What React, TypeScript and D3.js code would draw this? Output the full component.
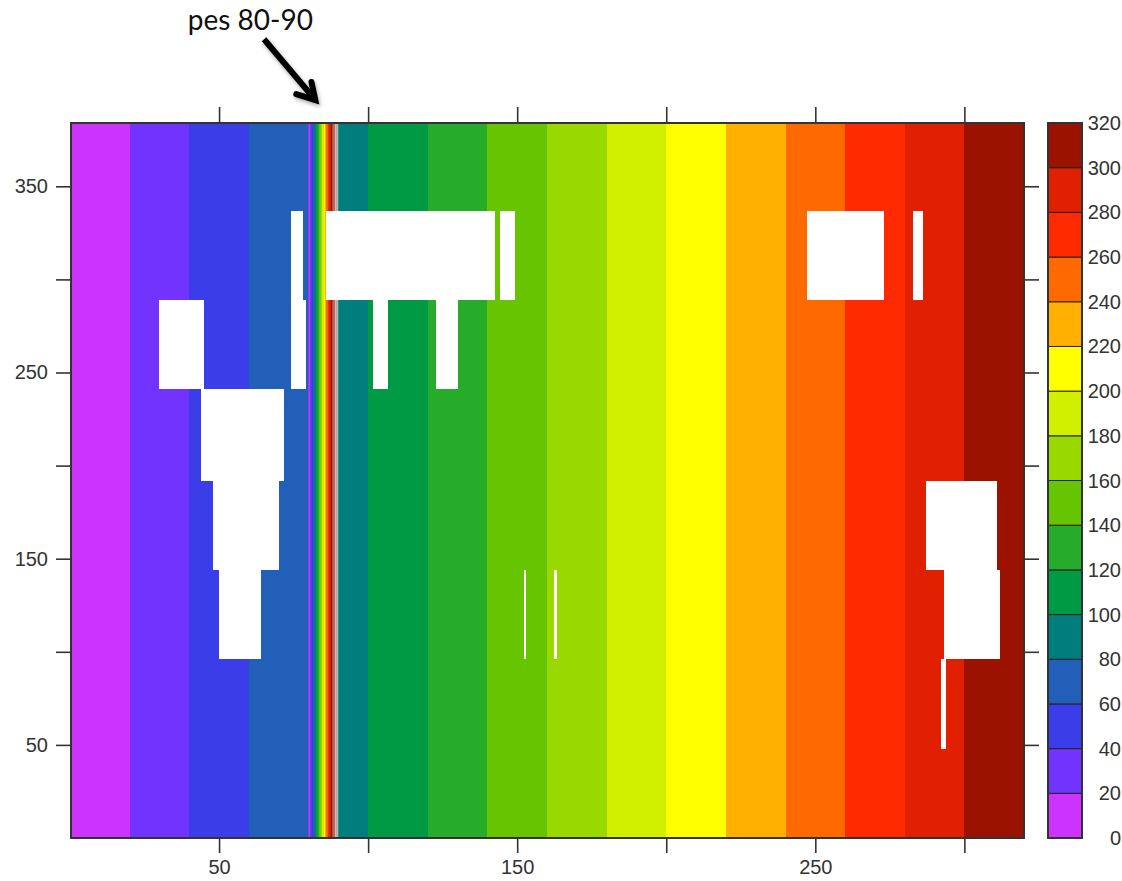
import React, { useEffect, useRef } from "react";
import { select, scaleLinear, axisBottom, axisTop, axisLeft, axisRight, line } from "d3";

const levels = [0, 20, 40, 60, 80, 100, 120, 140, 160, 180, 200, 220, 240, 260, 280, 300, 320];
const bandColors = [
  "#cc33ff", "#7333ff", "#3a3de8", "#225fb8", "#007d7d", "#009944", "#26ab2b", "#66c400",
  "#99d900", "#d1f000", "#ffff00", "#ffb000", "#ff6a00", "#ff2a00", "#e02000", "#9c1200",
];

// pes 80-90: the whole palette squeezed in, then a few pale slices
const stripStep = 0.5;
const stripStart = 80;
const paleEdges = [88, 88.9, 89.5, 90];
const paleColors = ["#b9685c", "#ecb4a8", "#a9b4b4"];

const xTicks = [50, 100, 150, 200, 250, 300];
const xLabelled = [50, 150, 250];
const yTicks = [50, 100, 150, 200, 250, 300, 350];
const yLabelled = [50, 150, 250, 350];

// missing data, [x0, x1, y0, y1]
const holes = [
  [30, 45, 241, 289],
  [74, 78, 289, 337],
  [74, 79, 241, 289],
  [85.8, 142.6, 289, 337],
  [144.2, 149.2, 289, 337],
  [247.2, 273, 289, 337],
  [282.8, 286, 289, 337],
  [101.7, 106.6, 241, 289],
  [122.9, 130.2, 241, 289],
  [44, 71.8, 192, 241],
  [48, 70.1, 144, 192],
  [50, 64, 96, 144],
  [152.3, 153.1, 96, 144],
  [162.2, 163.2, 96, 144],
  [287, 310.9, 144, 192],
  [293, 311.8, 96, 144],
  [292, 293.9, 48, 96],
];

const annotation = "pes 80-90";
const arrowShaft = [[65.1, 429], [82.5, 396]];
const arrowHead = [[75.9, 399.5], [82.3, 396.3], [81, 406]];

const WIDTH = 1122;
const HEIGHT = 881;
const FONT = "'Liberation Sans', Arial, sans-serif";
const INK = "#333";

function App() {
  const svgRef = useRef(null);

  const x = scaleLinear().domain([0, 320]).range([70, 1024]);
  const y = scaleLinear().domain([0, 384]).range([838, 123]);
  const barY = scaleLinear().domain([0, 320]).range([838, 123]);

  useEffect(() => {
    const svg = select(svgRef.current);

    const fmt = (list) => (d) => (list.includes(d) ? d : "");
    const style = (g) => {
      g.select(".domain").remove();
      g.selectAll("line").attr("stroke", INK).attr("stroke-width", 1.6);
      g.selectAll("text")
        .attr("fill", INK)
        .style("font-family", FONT)
        .style("font-size", "20px");
    };

    svg.select(".x-axis").attr("transform", "translate(0,838)")
      .call(axisBottom(x).tickValues(xTicks).tickFormat(fmt(xLabelled)).tickSize(15).tickPadding(7))
      .call(style);
    svg.select(".x-top").attr("transform", "translate(0,123)")
      .call(axisTop(x).tickValues(xTicks).tickFormat(() => "").tickSize(16))
      .call(style);
    svg.select(".y-axis").attr("transform", "translate(71,0)")
      .call(axisLeft(y).tickValues(yTicks).tickFormat(fmt(yLabelled)).tickSize(15).tickPadding(8))
      .call(style);
    svg.select(".y-right").attr("transform", "translate(1024,0)")
      .call(axisRight(y).tickValues(yTicks).tickFormat(() => "").tickSize(15))
      .call(style);
  }, []);

  const bands = levels.slice(0, -1).map((lo, i) => ({ lo, hi: levels[i + 1], color: bandColors[i] }));
  const arrow = line().x((d) => x(d[0])).y((d) => y(d[1]));

  return (
    <svg
      ref={svgRef}
      width={WIDTH}
      height={HEIGHT}
      style={{ position: "absolute", left: 0, top: 0, background: "#fff" }}
    >
      <defs>
        <filter id="soft" x="-30%" y="-30%" width="160%" height="160%">
          <feDropShadow dx="1" dy="2" stdDeviation="2" floodColor="#000" floodOpacity="0.35" />
        </filter>
      </defs>

      <g shapeRendering="crispEdges">
        {bands.map((b) => (
          <rect key={b.lo} x={x(b.lo)} width={x(b.hi) - x(b.lo)} y={y(384)} height={y(0) - y(384)} fill={b.color} />
        ))}
      </g>

      <g>
        {bandColors.map((c, i) => (
          <rect
            key={c}
            x={x(stripStart + i * stripStep)}
            width={x(stripStep) - x(0) + 0.3}
            y={y(384)}
            height={y(0) - y(384)}
            fill={c}
          />
        ))}
        {paleColors.map((c, i) => (
          <rect
            key={c}
            x={x(paleEdges[i])}
            width={x(paleEdges[i + 1]) - x(paleEdges[i])}
            y={y(384)}
            height={y(0) - y(384)}
            fill={c}
          />
        ))}
      </g>

      <g fill="#fff" shapeRendering="crispEdges">
        {holes.map((h, i) => (
          <rect key={i} x={x(h[0])} width={x(h[1]) - x(h[0])} y={y(h[3])} height={y(h[2]) - y(h[3])} />
        ))}
      </g>

      <rect x={71} y={y(384)} width={x(320) - 71} height={y(0) - y(384)} fill="none" stroke={INK} strokeWidth={2} />

      <g className="x-axis" />
      <g className="x-top" />
      <g className="y-axis" />
      <g className="y-right" />

      {/* colour bar */}
      <g>
        {bands.map((b) => (
          <rect
            key={b.lo}
            x={1048}
            width={34}
            y={barY(b.hi)}
            height={barY(b.lo) - barY(b.hi)}
            fill={b.color}
            stroke="#222"
            strokeWidth={1}
          />
        ))}
        <rect x={1048} y={barY(320)} width={34} height={barY(0) - barY(320)} fill="none" stroke={INK} strokeWidth={2} />
        {levels.map((l) => (
          <text
            key={l}
            x={1121}
            y={barY(l)}
            dy="0.35em"
            textAnchor="end"
            fill={INK}
            style={{ fontFamily: FONT, fontSize: 20 }}
          >
            {l}
          </text>
        ))}
      </g>

      {/* annotation */}
      <text x={x(39.5)} y={y(434)} fill="#111" style={{ fontFamily: "Lato, 'Open Sans', sans-serif", fontSize: 28 }}>
        {annotation}
      </text>
      <g fill="none" stroke="#000" strokeWidth={6} filter="url(#soft)">
        <path d={arrow(arrowShaft)} />
        <path d={arrow(arrowHead)} strokeLinejoin="miter" strokeLinecap="round" />
      </g>
    </svg>
  );
}

export default App;
